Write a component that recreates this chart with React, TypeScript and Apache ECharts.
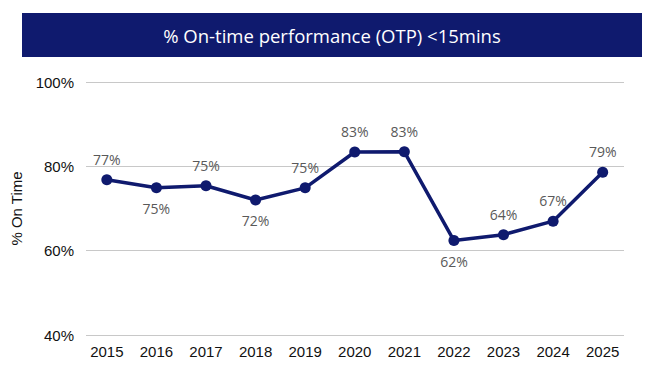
import React, { useEffect, useRef } from "react";
import * as echarts from "echarts";

const years = ["2015", "2016", "2017", "2018", "2019", "2020", "2021", "2022", "2023", "2024", "2025"];
const otp = [76.8, 74.9, 75.4, 72.0, 74.9, 83.4, 83.45, 62.4, 63.8, 67.0, 78.6];
const labelPos = ["top", "bottom", "top", "bottom", "top", "top", "top", "bottom", "top", "top", "top"];
const yTicks = [40, 60, 80, 100];
const titleText = "% On-time performance (OTP) <15mins";
const yName = "% On Time";

const NAVY = "#0f1a6e";

export default function App() {
  const ref = useRef<HTMLDivElement>(null);
  useEffect(() => {
    if (!ref.current) return;
    const chart = echarts.init(ref.current, null, { renderer: "svg" });
    const data = otp.map((v, i) => ({
      value: [i, v],
      label: { position: labelPos[i] },
    }));
    chart.setOption({
      animation: false,
      backgroundColor: "#ffffff",
      graphic: [
        {
          type: "rect",
          shape: { x: 22, y: 13, width: 620, height: 44 },
          style: { fill: NAVY },
        },
        {
          type: "text",
          x: 332,
          y: 35,
          style: {
            text: titleText,
            fill: "#ffffff",
            fontSize: 18.5,
            fontFamily: "Open Sans",
            align: "center",
            verticalAlign: "middle",
          },
        },
      ],
      grid: { left: 86, right: 27, top: 82, bottom: 44 },
      xAxis: {
        type: "value",
        min: -0.42,
        max: 10.43,
        splitLine: { show: false },
        axisLine: { show: false },
        axisTick: { show: false },
        axisLabel: {
          customValues: years.map((_, i) => i),
          formatter: (v: number) => years[Math.round(v)] ?? "",
          color: "#111",
          fontSize: 15,
          fontFamily: "Liberation Sans",
          margin: 9,
        },
      },
      yAxis: {
        type: "value",
        min: yTicks[0],
        max: yTicks[yTicks.length - 1],
        interval: 20,
        name: yName,
        nameLocation: "middle",
        nameGap: 62,
        nameTextStyle: { color: "#111", fontSize: 15, fontFamily: "Liberation Sans" },
        axisLine: { show: false },
        axisTick: { show: false },
        splitLine: { lineStyle: { color: "#c8c8c8", width: 1 } },
        axisLabel: {
          formatter: (v: number) => `${v}%`,
          color: "#111",
          fontSize: 15,
          fontFamily: "Liberation Sans",
          margin: 12,
        },
      },
      series: [
        {
          type: "line",
          data,
          symbol: "circle",
          symbolSize: 11,
          itemStyle: { color: NAVY },
          lineStyle: { color: NAVY, width: 3.5 },
          label: {
            show: true,
            formatter: (p: any) => `${Math.round(p.value[1])}%`,
            color: "#595959",
            fontSize: 14,
            fontFamily: "Open Sans",
            distance: 8,
          },
        },
      ],
    });
    return () => chart.dispose();
  }, []);
  return <div ref={ref} style={{ width: 651, height: 379, margin: -8 }} />;
}
